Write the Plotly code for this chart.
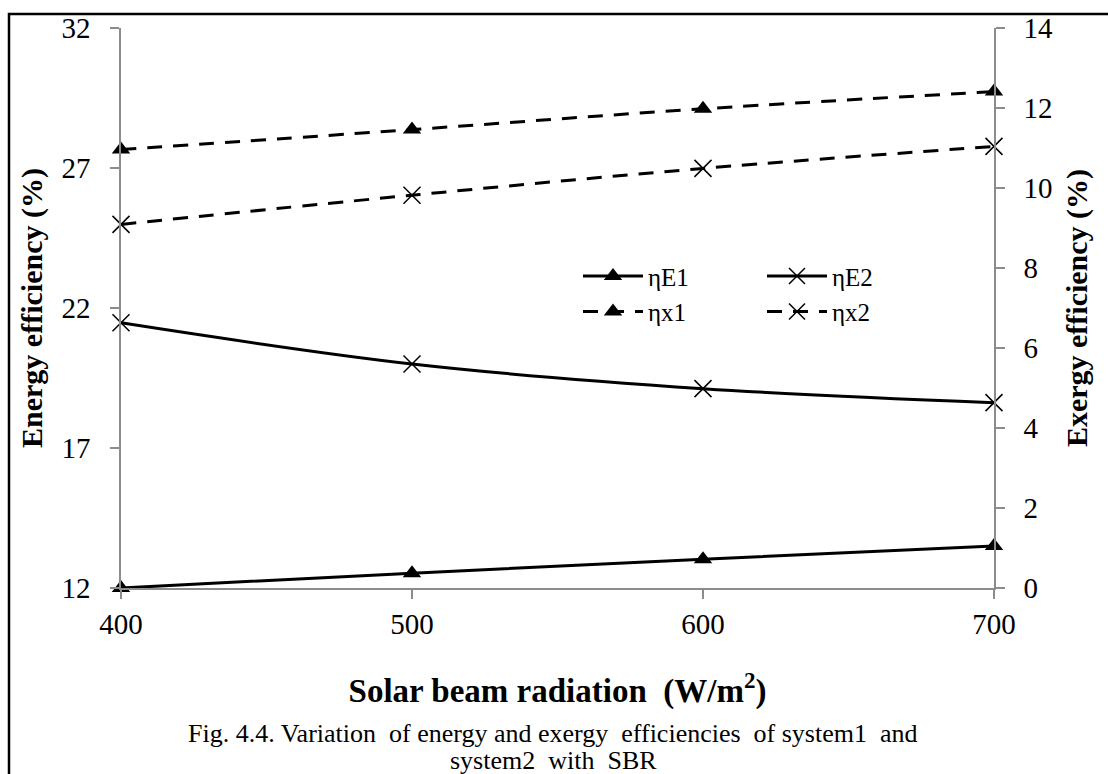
import plotly.graph_objects as go

# Data
radiation = [400, 500, 600, 700]
eta_E1 = [12.0, 12.53, 13.03, 13.5]     # energy efficiency system1 (%), left axis
eta_E2 = [21.47, 20.0, 19.12, 18.62]    # energy efficiency system2 (%), left axis
eta_x1 = [10.96, 11.46, 11.98, 12.41]   # exergy efficiency system1 (%), right axis
eta_x2 = [9.09, 9.82, 10.49, 11.04]     # exergy efficiency system2 (%), right axis

FONT = "Liberation Serif, Times New Roman, serif"
W, H = 1108, 774
L, R, T, B = 121, 114, 26, 186
pw, ph = W - L - R, H - T - B

def px(x):
    return (x - L) / pw

def py(y):
    return (H - B - y) / ph

fig = go.Figure()

tri = dict(symbol="triangle-up", size=16, color="black")
xm = dict(symbol="x-thin-open", size=17, line=dict(color="#555", width=1.5))

fig.add_trace(go.Scatter(
    x=radiation, y=eta_E1, name="ηE1", mode="lines+markers", cliponaxis=False,
    line=dict(color="black", width=3, shape="spline"), marker=tri,
    legend="legend", yaxis="y"))
fig.add_trace(go.Scatter(
    x=radiation, y=eta_E2, name="ηE2", mode="lines+markers", cliponaxis=False,
    line=dict(color="black", width=3, shape="spline"), marker=xm,
    legend="legend2", yaxis="y"))
fig.add_trace(go.Scatter(
    x=radiation, y=eta_x1, name="ηx1", mode="lines+markers", cliponaxis=False,
    line=dict(color="black", width=3, dash="15px,11px", shape="spline"), marker=tri,
    legend="legend", yaxis="y2"))
fig.add_trace(go.Scatter(
    x=radiation, y=eta_x2, name="ηx2", mode="lines+markers", cliponaxis=False,
    line=dict(color="black", width=3, dash="15px,11px", shape="spline"), marker=xm,
    legend="legend2", yaxis="y2"))

axis_common = dict(
    showgrid=False, zeroline=False, showline=True,
    linecolor="#8c8c8c", linewidth=1.5,
    ticks="outside", ticklen=9, tickwidth=1.5, tickcolor="#8c8c8c",
    tickfont=dict(family=FONT, size=29, color="black"),
)

fig.update_layout(
    width=W, height=H,
    margin=dict(l=L, r=R, t=T, b=B, pad=0),
    paper_bgcolor="white", plot_bgcolor="white",
    font=dict(family=FONT, color="black"),
    showlegend=True,
    xaxis=dict(range=[400, 700], tickvals=[400, 500, 600, 700], **axis_common,
               title=dict(text="<b>Solar beam radiation  (W/m<sup>2</sup>)</b>",
                          font=dict(family=FONT, size=33, color="black"), standoff=40)),
    yaxis=dict(range=[12, 32], tickvals=[12, 17, 22, 27, 32], **axis_common,
               ticklabelstandoff=14,
               title=dict(text="<b>Energy efficiency (%)</b>",
                          font=dict(family=FONT, size=30, color="black"), standoff=10)),
    yaxis2=dict(range=[0, 14], tickvals=[0, 2, 4, 6, 8, 10, 12, 14], overlaying="y",
                side="right", **axis_common, ticklabelstandoff=13,
                title=dict(text="<b>Exergy efficiency (%)</b>",
                           font=dict(family=FONT, size=30, color="black"), standoff=14)),
    legend=dict(x=px(578), y=py(252), xanchor="left", yanchor="top",
                bgcolor="rgba(0,0,0,0)", font=dict(family=FONT, size=25),
                tracegroupgap=0, itemwidth=60),
    legend2=dict(x=px(762), y=py(252), xanchor="left", yanchor="top",
                 bgcolor="rgba(0,0,0,0)", font=dict(family=FONT, size=25),
                 tracegroupgap=0, itemwidth=60),
)

# Outer frame
fig.add_shape(type="rect", xref="paper", yref="paper",
              x0=px(9), x1=px(1125), y0=py(790), y1=py(12),
              line=dict(color="black", width=2.5), fillcolor="rgba(0,0,0,0)", layer="below")

# Caption (two lines)
fig.add_annotation(xref="paper", yref="paper", x=px(553), y=py(734),
                   text="Fig. 4.4. Variation  of energy and exergy  efficiencies  of system1  and",
                   showarrow=False, xanchor="center", yanchor="middle",
                   font=dict(family=FONT, size=26, color="black"))
fig.add_annotation(xref="paper", yref="paper", x=px(553), y=py(761),
                   text="system2  with  SBR",
                   showarrow=False, xanchor="center", yanchor="middle",
                   font=dict(family=FONT, size=26, color="black"))

fig.write_html("out.html")
